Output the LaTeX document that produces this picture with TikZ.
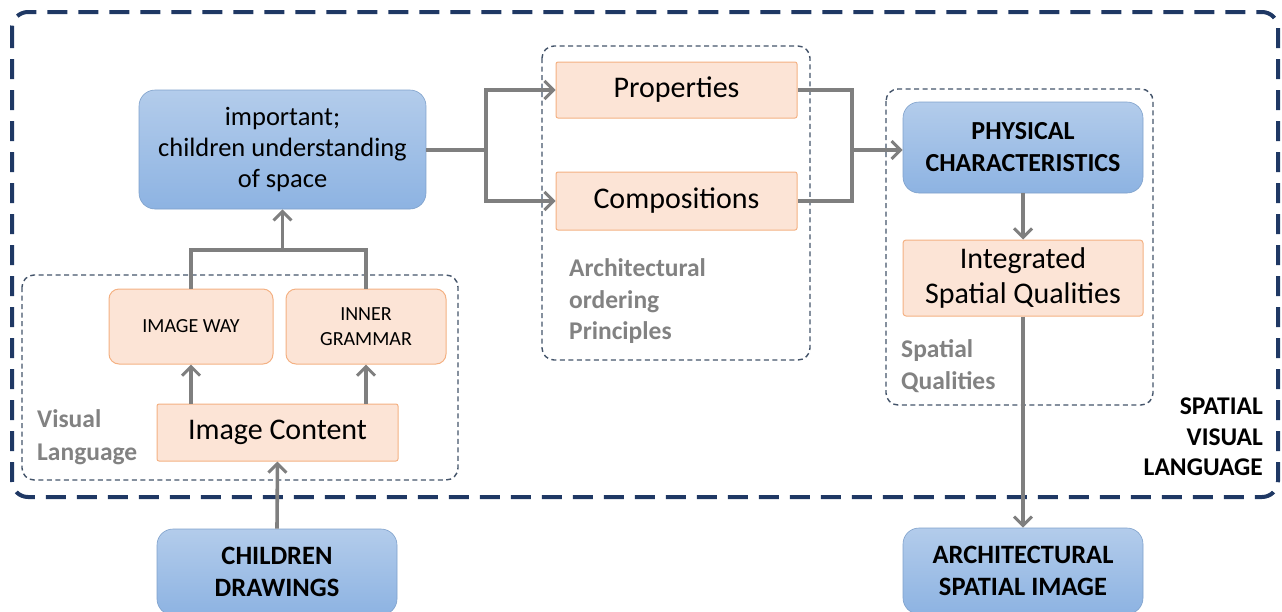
\documentclass[tikz,border=0pt]{standalone}
\usepackage{fontspec}
\setmainfont{Carlito}
\usetikzlibrary{arrows.meta,calc}
\definecolor{navy}{HTML}{1F3864}
\definecolor{dnavy}{HTML}{44546A}
\definecolor{bluetop}{HTML}{B3CCEB}
\definecolor{bluebot}{HTML}{8DB3E2}
\definecolor{peach}{HTML}{FCE4D6}
\definecolor{peachline}{HTML}{F4B183}
\definecolor{arrgray}{HTML}{7F7F7F}
\definecolor{lblgray}{HTML}{828282}
\tikzset{
  bluebox/.style={rectangle, rounded corners=16pt, top color=bluetop, bottom color=bluebot, draw=bluebot!90!black, line width=0.6pt, inner sep=0pt, align=center, text=black},
  peachbox/.style={rectangle, rounded corners=#1, fill=peach, draw=peachline, line width=1pt, inner sep=0pt, align=center, text=black},
  peachbox/.default=10pt,
  grouplbl/.style={font=\fontsize{25.5}{32.5}\selectfont\bfseries, text=lblgray, align=left, inner sep=0pt},
  groupbox/.style={draw=dnavy, dash pattern=on 5pt off 3.5pt, line width=1.4pt, rounded corners=12pt},
  conn/.style={draw=arrgray, line width=3.6pt},
  arr/.style={conn, -{Straight Barb[length=9pt,width=18pt,line width=3pt]}},
}
\begin{document}
\begin{tikzpicture}[x=1pt,y=-1pt]
\useasboundingbox (0,0) rectangle (1282,611);
% outer group
\draw[draw=navy, line width=4pt, dash pattern=on 20pt off 11pt, rounded corners=16pt] (12,12) rectangle (1278,497);
% inner groups
\draw[groupbox] (22,275) rectangle (458,480);
\draw[groupbox] (542,46) rectangle (810,360);
\draw[groupbox] (886,89) rectangle (1153,405);

% nodes
\node[bluebox, minimum width=287pt, minimum height=119pt, font=\fontsize{26.5}{31}\selectfont] (imp) at (282.5,149.5) {important;\\children understanding\\of space};
\node[peachbox, minimum width=164pt, minimum height=75pt, font=\fontsize{20}{24}\selectfont] (iw) at (191,326.5) {IMAGE WAY};
\node[peachbox, minimum width=160pt, minimum height=75pt, font=\fontsize{20}{25}\selectfont] (ig) at (366,326.5) {INNER\\GRAMMAR};
\node[peachbox=2pt, minimum width=241pt, minimum height=57pt, font=\fontsize{30}{34}\selectfont] (ic) at (277.5,432.5) {Image Content};
\node[bluebox, minimum width=240pt, minimum height=86pt, font=\fontsize{26.5}{32}\selectfont\bfseries] (cd) at (277,572) {CHILDREN\\DRAWINGS};

\node[peachbox=2pt, minimum width=241pt, minimum height=56pt, font=\fontsize{30}{34}\selectfont] (prop) at (676.5,90) {Properties};
\node[peachbox=2pt, minimum width=241pt, minimum height=58pt, font=\fontsize{30}{34}\selectfont] (comp) at (676.5,201) {Compositions};

\node[bluebox, minimum width=240pt, minimum height=91pt, font=\fontsize{26}{32}\selectfont\bfseries] (phys) at (1023,147.5) {PHYSICAL\\CHARACTERISTICS};
\node[peachbox=3pt, minimum width=240pt, minimum height=76pt, font=\fontsize{30}{35}\selectfont] (integ) at (1023,278) {Integrated\\Spatial Qualities};
\node[bluebox, minimum width=240pt, minimum height=86pt, font=\fontsize{26.5}{32}\selectfont\bfseries] (asi) at (1023,571) {ARCHITECTURAL\\SPATIAL IMAGE};

% labels
\node[grouplbl, anchor=west] (vl) at (37,437) {Visual\\Language};
\node[grouplbl, anchor=west, font=\fontsize{25.5}{31.5}\selectfont\bfseries] (aop) at (569,301.5) {Architectural\\ordering\\Principles};
\node[grouplbl, anchor=west] (sq) at (901,366) {Spatial\\Qualities};
\node[font=\fontsize{25.5}{30.5}\selectfont\bfseries, align=right, anchor=east, inner sep=0pt] (svl) at (1263,437) {SPATIAL\\VISUAL\\LANGUAGE};

% connectors
\coordinate (j1) at (282.5,250);
\draw[conn] (iw.north) |- (j1) -| (ig.north);
\draw[arr] (j1) -- (imp.south);
\draw[arr] (iw.south |- ic.north) -- (iw.south);
\draw[arr] (ig.south |- ic.north) -- (ig.south);
\draw[arr] (cd.north) -- (ic.south);

\coordinate (s1) at (486,150);
\draw[conn] (imp.east |- s1) -- (s1);
\draw[arr] (s1) |- (prop.west);
\draw[arr] (s1) |- (comp.west);

\coordinate (s2) at (852,150);
\draw[conn] (prop.east) -| (s2) |- (comp.east);
\draw[arr] (s2) -- (s2 -| phys.west);

\draw[arr] (phys.south) -- (integ.north);
\draw[arr] (integ.south) -- (asi.north);
\end{tikzpicture}
\end{document}
